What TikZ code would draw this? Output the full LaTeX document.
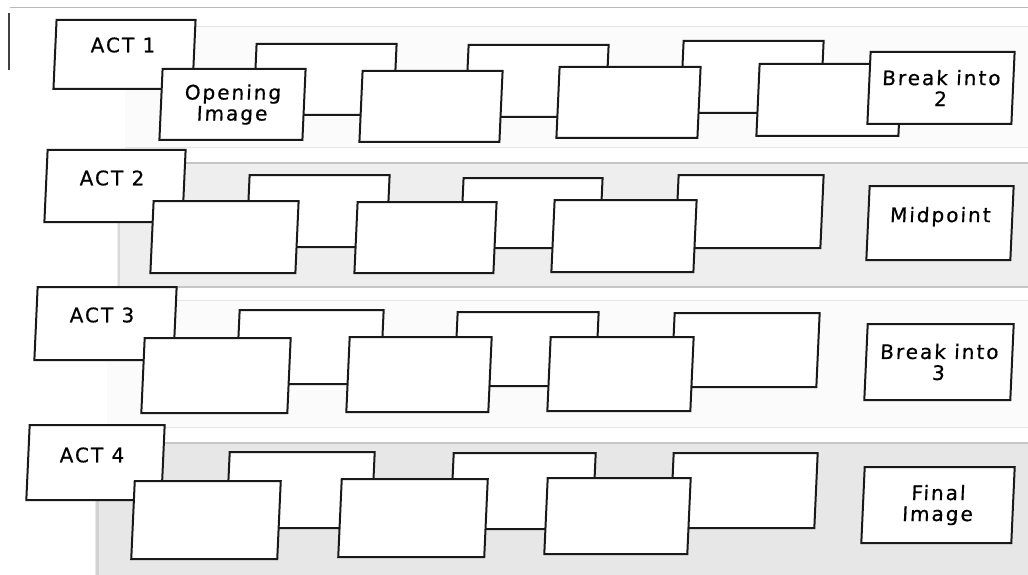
\documentclass[tikz,border=0pt]{standalone}
\usepackage{fontspec}
\newfontfamily\hand[LetterSpace=10,FakeBold=0.6]{DejaVu Sans}
\begin{document}
\begin{tikzpicture}[x=1pt,y=-1pt,
  box/.style={draw=black!90,fill=white,line width=2pt,inner sep=0pt,xslant=0.045,
    font=\hand\fontsize{20}{21}\selectfont,align=center},
  lbl/.style={inner sep=0pt,font=\hand\fontsize{20}{21}\selectfont}]
\newcommand\bx[7][]{\node[box,#1,minimum width={#5-#3},minimum height={#6-#4}] (#2) at ({(#3+#5)/2},{(#4+#6)/2}) {#7};}
\useasboundingbox (0,0) rectangle (1028,575);
\fill[white] (0,0) rectangle (1028,575);
% paper bands
\fill[gray!3] (125,27) rectangle (1028,148);
\fill[gray!13] (117,163) rectangle (1028,287);
\fill[gray!3] (107,300) rectangle (1028,427);
\fill[gray!19] (95,443) rectangle (1028,575);
\draw[gray!20,line width=1pt] (125,27) -- (1028,27) (125,148) -- (1028,148);
\draw[gray!45,line width=1.5pt] (117,163) -- (1028,163) (117,287) -- (1028,287);
\draw[gray!30,line width=2.5pt] (119,165) -- (119,286);
\draw[gray!20,line width=1pt] (107,300) -- (1028,300) (107,427) -- (1028,427);
\draw[gray!45,line width=1.5pt] (95,443) -- (1028,443);
\draw[gray!35,line width=3pt] (97,445) -- (97,575);
\draw[gray!55,line width=1pt] (10,8) -- (1028,8);
\draw[black!75,line width=1.8pt] (9,13) -- (9,70);
% ---- Act 1 ----
\bx{r1b1}{255}{44}{395}{115}{}
\bx{r1b2}{467}{45}{607}{117}{}
\bx{r1b3}{682}{41}{822}{113}{}
\bx{act1}{55}{20}{194}{89}{}
\bx{r1f1}{161}{69}{304}{140}{Opening\\Image}
\bx{r1f2}{361}{71}{501}{142}{}
\bx{r1f3}{558}{67}{699}{138}{}
\bx{r1f4}{758}{64}{900}{136}{}
\bx{brk2}{869}{52}{1013}{124}{Break into\\2}
\node[lbl] (act1t) at (123,45) {ACT 1};
% ---- Act 2 ----
\bx{r2b1}{248}{175}{388}{247}{}
\bx{r2b2}{462}{178}{601}{248}{}
\bx{r2b3}{677}{175}{822}{248}{}
\bx{act2}{46}{150}{184}{222}{}
\bx{r2f1}{152}{201}{297}{273}{}
\bx{r2f2}{356}{202}{495}{273}{}
\bx{r2f3}{553}{200}{695}{272}{}
\bx{mid}{868}{186}{1012}{260}{Midpoint\\[-4pt]\mbox{}}
\node[lbl] (act2t) at (112,178) {ACT 2};
% ---- Act 3 ----
\bx{r3b1}{238}{310}{382}{384}{}
\bx{r3b2}{456}{312}{597}{386}{}
\bx{r3b3}{673}{313}{818}{387}{}
\bx{act3}{36}{287}{175}{360}{}
\bx{r3f1}{143}{338}{289}{413}{}
\bx{r3f2}{348}{337}{490}{412}{}
\bx{r3f3}{549}{337}{692}{411}{}
\bx{brk3}{866}{324}{1012}{400}{Break into\\3}
\node[lbl] (act3t) at (102,315) {ACT 3};
% ---- Act 4 ----
\bx{r4b1}{228}{452}{373}{528}{}
\bx{r4b2}{452}{453}{594}{529}{}
\bx{r4b3}{672}{453}{816}{528}{}
\bx{act4}{28}{425}{163}{500}{}
\bx{r4f1}{133}{481}{279}{559}{}
\bx{r4f2}{340}{479}{486}{557}{}
\bx{r4f3}{546}{478}{689}{554}{}
\bx{fin}{863}{467}{1013}{543}{Final\\Image}
\node[lbl] (act4t) at (92,455) {ACT 4};
\end{tikzpicture}
\end{document}
